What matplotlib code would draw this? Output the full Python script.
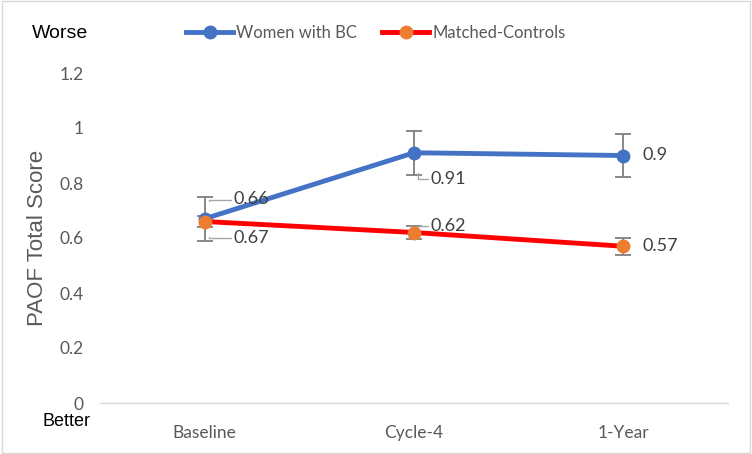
import matplotlib
matplotlib.use('Agg')
import matplotlib.pyplot as plt
from matplotlib.patches import Rectangle

plt.rcParams['font.family'] = ['Lato', 'DejaVu Sans']

# Time points
timepoints = ['Baseline', 'Cycle-4', '1-Year']

# PAOF total score, means and error bar half-widths
women = [0.67, 0.91, 0.90]
women_err = [0.08, 0.08, 0.08]
controls = [0.66, 0.62, 0.57]
controls_err = [0.02, 0.025, 0.03]

# Data label texts as shown in the chart
women_labels = ['0.67', '0.91', '0.9']
controls_labels = ['0.66', '0.62', '0.57']

fig = plt.figure(figsize=(7.52, 4.54), dpi=100)
ax = fig.add_axes([100 / 752, 51 / 454, 628 / 752, 330 / 454])

x = list(range(len(timepoints)))

ax.errorbar(x, women, yerr=women_err, fmt='none', ecolor='#7f7f7f',
            elinewidth=1.3, capsize=6, capthick=1.3, zorder=2)
ax.errorbar(x, controls, yerr=controls_err, fmt='none', ecolor='#7f7f7f',
            elinewidth=1.3, capsize=6, capthick=1.3, zorder=2)

ax.plot(x, women, color='#4472c4', linewidth=3.5, marker='o', markersize=9,
        markerfacecolor='#4472c4', markeredgecolor='#4472c4', zorder=3,
        label='Women with BC')
ax.plot(x, controls, color='#ff0000', linewidth=3.5, marker='o', markersize=9,
        markerfacecolor='#ed7d31', markeredgecolor='#ed7d31', zorder=4,
        label='Matched-Controls')

lbl = dict(fontsize=13, color='#404040', va='center', ha='left')
lead = dict(arrowstyle='-', color='#a6a6a6', lw=1,
            connectionstyle='angle,angleA=0,angleB=90,rad=0', shrinkA=0, shrinkB=0)

# Baseline labels with leader lines
ax.annotate(controls_labels[0], xy=(0.02, 0.735), xytext=(0.14, 0.74),
            arrowprops=lead, **lbl)
ax.annotate(women_labels[0], xy=(0.02, 0.605), xytext=(0.14, 0.60),
            arrowprops=lead, **lbl)
# Cycle-4
ax.annotate(women_labels[1], xy=(1.02, 0.835), xytext=(1.08, 0.815),
            arrowprops=lead, **lbl)
ax.annotate(controls_labels[1], xy=(1.02, 0.64), xytext=(1.08, 0.645),
            arrowprops=lead, **lbl)
# 1-Year
ax.annotate(women_labels[2], xy=(2, women[2]), xytext=(2.09, women[2]), **lbl)
ax.annotate(controls_labels[2], xy=(2, controls[2]), xytext=(2.09, controls[2]), **lbl)

ax.set_xlim(-0.5, 2.5)
ax.set_ylim(0, 1.2)
ax.set_yticks([0, 0.2, 0.4, 0.6, 0.8, 1.0, 1.2])
ax.set_yticklabels(['0', '0.2', '0.4', '0.6', '0.8', '1', '1.2'])
ax.set_xticks(x)
ax.set_xticklabels(timepoints)
ax.tick_params(axis='both', length=0, labelsize=12.5, colors='#595959')
ax.tick_params(axis='x', pad=16)
ax.tick_params(axis='y', pad=12)
for side in ['top', 'right', 'left']:
    ax.spines[side].set_visible(False)
ax.spines['bottom'].set_color('#d9d9d9')
ax.spines['bottom'].set_linewidth(1)

ax.set_ylabel('PAOF Total Score', fontsize=16, color='#595959', labelpad=8,
              family=['Liberation Sans', 'DejaVu Sans'])

fig.text(32 / 752, 1 - 33 / 454, 'Worse', fontsize=14, color='black',
         va='center', ha='left', family=['Liberation Sans', 'DejaVu Sans'])
fig.text(42 / 752, 1 - 421 / 454, 'Better', fontsize=13, color='black',
         va='center', ha='left', family=['Liberation Sans', 'DejaVu Sans'])

fig.legend(loc='center', bbox_to_anchor=(0.5, 1 - 33 / 454), ncol=2,
           frameon=False, fontsize=12, labelcolor='#595959', handlelength=2.8,
           columnspacing=1.5, handletextpad=0.2)

fig.patches.append(Rectangle((0.002, 0.003), 0.996, 0.994, transform=fig.transFigure,
                             fill=False, edgecolor='#d9d9d9', linewidth=1))

fig.savefig('out.png', dpi=100)
